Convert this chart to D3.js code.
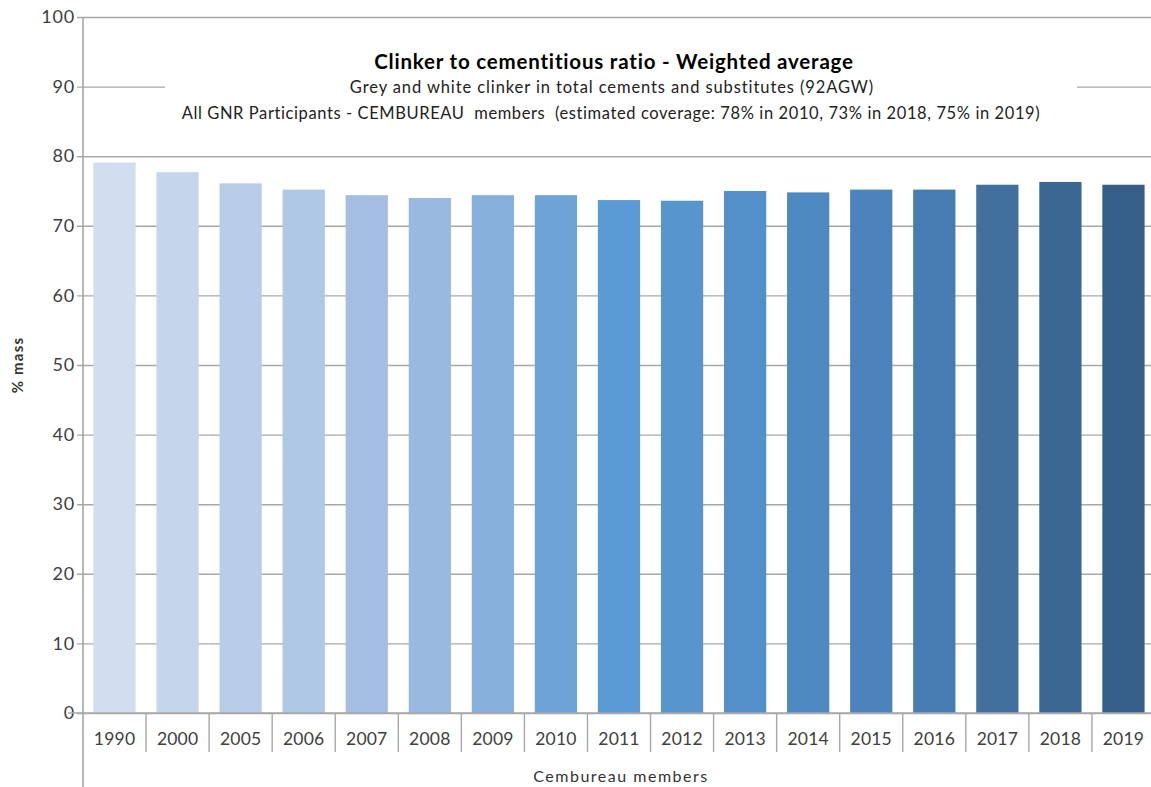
<!DOCTYPE html>
<html><head><meta charset="utf-8">
<script src="https://cdn.jsdelivr.net/npm/d3@7"></script>
<style>body{margin:0;background:#fff}svg{display:block}</style>
</head><body>
<script>
const years = ["1990","2000","2005","2006","2007","2008","2009","2010","2011","2012","2013","2014","2015","2016","2017","2018","2019"];
const values = [79.1,77.7,76.1,75.2,74.4,74.0,74.4,74.4,73.7,73.6,75.0,74.8,75.2,75.2,75.9,76.3,75.9];
const barColors = ["#d2deef","#c5d5ec","#b8cde8","#afc8e5","#a3bee2","#99b9e0","#87afdc","#6ea3d8","#5b9bd5","#5795cd","#538fc8","#4f89c2","#4b83ba","#477cb2","#41709f","#3b6793","#365f87"];
const yTicks = [0,10,20,30,40,50,60,70,80,90,100];
const titleText = "Clinker to cementitious ratio - Weighted average";
const subtitle1 = "Grey and white clinker in total cements and substitutes (92AGW)";
const subtitle2 = "All GNR Participants - CEMBUREAU  members  (estimated coverage: 78% in 2010, 73% in 2018, 75% in 2019)";
const yLabel = "% mass";
const xLabel = "Cembureau members";

const W = 1151, H = 787;
const font = "Lato, 'Open Sans', sans-serif";
const svg = d3.select("body").append("svg").attr("width", W).attr("height", H);

const y = d3.scaleLinear().domain([0,100]).range([713,17]);
const x = d3.scaleBand().domain(years).range([83,1155]).paddingInner(0.33).paddingOuter(0.165);

// gridlines with ticks
const yAxis = d3.axisLeft(y).tickValues(yTicks).tickSize(-(W-77)).tickPadding(4).tickFormat(d3.format("d"));
const gy = svg.append("g").attr("transform","translate(77,0)").call(yAxis);
gy.select(".domain").remove();
gy.selectAll(".tick line").attr("stroke","#a8a8a8").attr("stroke-width",1.4);
gy.selectAll(".tick text").attr("font-family",font).attr("font-size",18).attr("letter-spacing",0.8)
  .attr("fill","#404040").attr("x",-2);

// bars
svg.append("g").selectAll("rect").data(years).join("rect")
  .attr("x", d => x(d)).attr("width", x.bandwidth())
  .attr("y", (d,i) => y(values[i])).attr("height", (d,i) => y(0) - y(values[i]))
  .attr("fill", (d,i) => barColors[i]);

// zero line + left tick
svg.append("line").attr("x1",68).attr("x2",W).attr("y1",y(0)).attr("y2",y(0)).attr("stroke","#a8a8a8").attr("stroke-width",1.4);

// x category labels via axis
const xAxis = d3.axisBottom(x).tickSize(0).tickPadding(20);
const gx = svg.append("g").attr("transform",`translate(0,${y(0)})`).call(xAxis);
gx.select(".domain").remove();
gx.selectAll(".tick text").attr("font-family",font).attr("font-size",17.5).attr("letter-spacing",0.2).attr("fill","#404040");
const step = x.step();
const gap = (step - x.bandwidth())/2;
const bounds = years.map(d => x(d) + x.bandwidth() + gap);
svg.append("g").selectAll("line").data(bounds).join("line")
  .attr("x1", d=>d).attr("x2", d=>d).attr("y1", y(0)).attr("y2", 752)
  .attr("stroke","#a8a8a8").attr("stroke-width",1.4);

// y axis line
svg.append("line").attr("x1",83).attr("x2",83).attr("y1",17).attr("y2",H).attr("stroke","#a0a0a0").attr("stroke-width",1.5);

// title box
svg.append("rect").attr("x",165).attr("y",36).attr("width",912).attr("height",96).attr("fill","#fff");
svg.append("text").attr("x",614).attr("y",69).attr("text-anchor","middle").attr("font-family",font)
  .attr("font-weight","bold").attr("font-size",20.5).attr("letter-spacing",0.8).attr("fill","#000").text(titleText);
svg.append("text").attr("x",612).attr("y",93).attr("text-anchor","middle").attr("font-family",font)
  .attr("font-size",16.5).attr("letter-spacing",0.9).attr("fill","#222").text(subtitle1);
svg.append("text").attr("x",611).attr("y",119).attr("text-anchor","middle").attr("font-family",font)
  .attr("font-size",16.5).attr("letter-spacing",0.6).attr("fill","#222").style("white-space","pre").text(subtitle2);

// axis titles
svg.append("text").attr("transform","translate(23,365) rotate(-90)").attr("text-anchor","middle")
  .attr("font-family",font).attr("font-weight","bold").attr("font-size",15).attr("letter-spacing",1.2).attr("fill","#333").text(yLabel);
svg.append("text").attr("x",621).attr("y",782).attr("text-anchor","middle").attr("font-family",font)
  .attr("font-size",16).attr("letter-spacing",1.5).attr("fill","#333").text(xLabel);
</script>
</body></html>
